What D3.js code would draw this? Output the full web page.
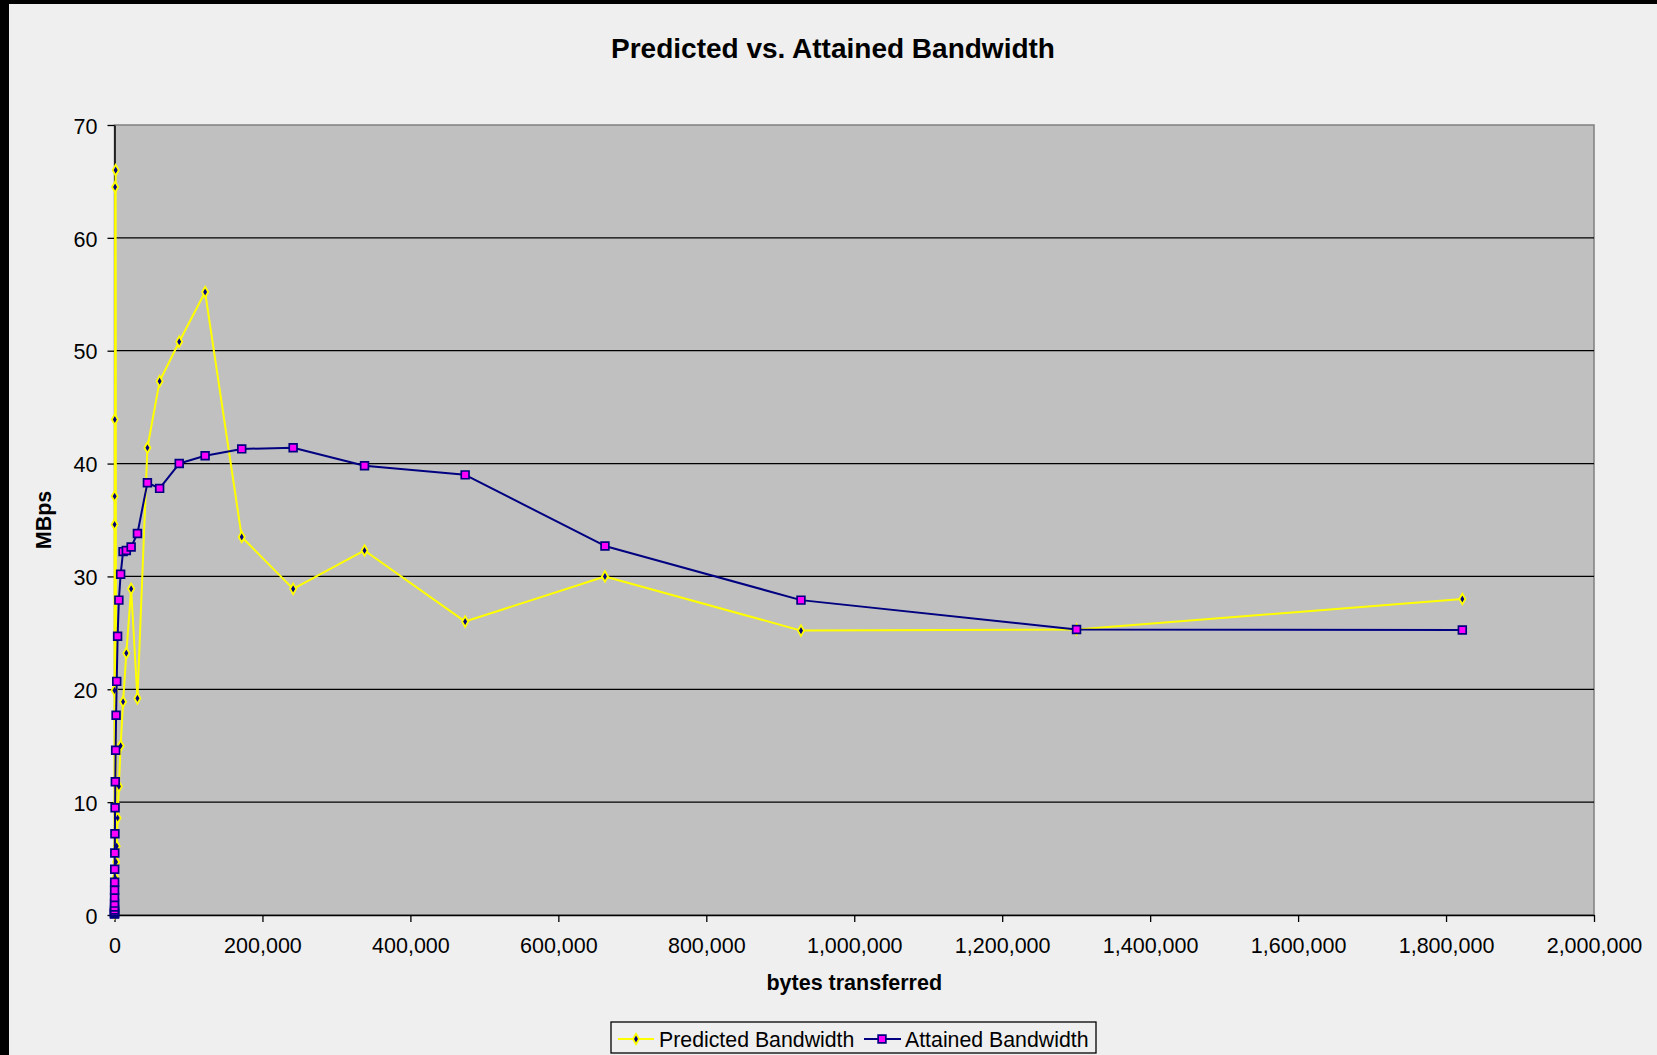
<!DOCTYPE html>
<html>
<head>
<meta charset="utf-8">
<script src="https://cdn.jsdelivr.net/npm/d3@7"></script>
<style>
  html, body { margin: 0; padding: 0; background: #efefef; }
  svg { display: block; font-family: "Liberation Sans", Arial, sans-serif; }
</style>
</head>
<body>
<svg id="chart" width="1657" height="1055"></svg>
<script>
// ---- data ----
const bytesTransferred = [10, 14, 20, 27, 38, 54, 75, 105, 145, 205, 290, 400, 560, 790, 1100, 1550, 2150, 3000, 4200, 5900, 8300, 11600, 16000, 22500, 31000, 44500, 61000, 87500, 122500, 172000, 241500, 338000, 474000, 663000, 928000, 1300500, 1822000];
const predictedBandwidth = [0.15, 0.2, 0.3, 0.4, 0.6, 19.9, 0.9, 34.6, 1.3, 37.1, 1.8, 43.9, 2.5, 64.5, 3.3, 66.0, 4.7, 6.1, 8.6, 11.4, 15.0, 18.9, 23.2, 28.9, 19.2, 41.4, 47.3, 50.8, 55.2, 33.5, 28.9, 32.3, 26.0, 30.0, 25.2, 25.3, 28.0];
const attainedBandwidth = [0.08, 0.12, 0.2, 0.3, 0.45, 0.7, 1.05, 1.55, 2.2, 2.9, 4.05, 5.5, 7.2, 9.5, 11.8, 14.6, 17.7, 20.7, 24.7, 27.9, 30.2, 32.2, 32.3, 32.6, 33.8, 38.3, 37.8, 40.0, 40.7, 41.3, 41.4, 39.8, 39.0, 32.7, 27.9, 25.3, 25.25];
const xTicks = [0, 200000, 400000, 600000, 800000, 1000000, 1200000, 1400000, 1600000, 1800000, 2000000];
const yTicks = [0, 10, 20, 30, 40, 50, 60, 70];
const seriesNames = ["Predicted Bandwidth", "Attained Bandwidth"];
const chartTitle = "Predicted vs. Attained Bandwidth";
const xTitle = "bytes transferred";
const yTitle = "MBps";

// ---- layout ----
const svg = d3.select("#chart");
const W = 1657, H = 1055;
const plot = { left: 114.5, right: 1594, top: 125, bottom: 915 };

svg.append("rect").attr("x", 0).attr("y", 0).attr("width", W).attr("height", H).attr("fill", "#efefef");
// black frame edges (top / left) seen in reference
svg.append("rect").attr("x", 0).attr("y", 0).attr("width", W).attr("height", 4).attr("fill", "#000");
svg.append("rect").attr("x", 0).attr("y", 0).attr("width", 9).attr("height", H).attr("fill", "#000");

const x = d3.scaleLinear().domain([0, 2000000]).range([plot.left, plot.right]);
const y = d3.scaleLinear().domain([0, 70]).range([plot.bottom, plot.top]);

// plot area
svg.append("rect")
  .attr("x", plot.left).attr("y", plot.top)
  .attr("width", plot.right - plot.left).attr("height", plot.bottom - plot.top)
  .attr("fill", "#c0c0c0").attr("stroke", "#808080").attr("stroke-width", 1.5);

// gridlines
svg.append("g").selectAll("line")
  .data(yTicks.filter(t => t > 0 && t < 70))
  .join("line")
  .attr("x1", plot.left).attr("x2", plot.right)
  .attr("y1", d => y(d)).attr("y2", d => y(d))
  .attr("stroke", "#000").attr("stroke-width", 1.3);

// axes
const xAxis = d3.axisBottom(x).tickValues(xTicks).tickFormat(d3.format(",")).tickSizeOuter(0).tickSizeInner(7).tickPadding(16);
const gx = svg.append("g").attr("transform", `translate(0,${plot.bottom})`).call(xAxis);
gx.select(".domain").attr("stroke", "#000").attr("stroke-width", 1.5);
gx.selectAll(".tick line").attr("stroke", "#000").attr("stroke-width", 1.3);
gx.selectAll(".tick text").attr("font-size", 21.5).attr("fill", "#000").attr("font-family", "Liberation Sans, Arial, sans-serif");

const yAxis = d3.axisLeft(y).tickValues(yTicks).tickSizeOuter(0).tickSizeInner(7).tickPadding(10);
const gy = svg.append("g").attr("transform", `translate(${plot.left},0)`).call(yAxis);
gy.select(".domain").attr("stroke", "#000").attr("stroke-width", 1.5);
gy.selectAll(".tick line").attr("stroke", "#000").attr("stroke-width", 1.3);
gy.selectAll(".tick text").attr("font-size", 21.5).attr("fill", "#000").attr("font-family", "Liberation Sans, Arial, sans-serif").attr("dy", "0.38em");

// titles
svg.append("text").attr("x", 833).attr("y", 58).attr("text-anchor", "middle")
  .attr("font-size", 28).attr("font-weight", "bold").text(chartTitle);
svg.append("text").attr("x", (plot.left + plot.right) / 2).attr("y", 990).attr("text-anchor", "middle")
  .attr("font-size", 21.5).attr("font-weight", "bold").text(xTitle);
svg.append("text").attr("transform", `translate(51,${(plot.top + plot.bottom) / 2}) rotate(-90)`)
  .attr("text-anchor", "middle").attr("font-size", 21.5).attr("font-weight", "bold").text(yTitle);

// series
const predData = bytesTransferred.map((b, i) => [b, predictedBandwidth[i]]);
const attData = bytesTransferred.map((b, i) => [b, attainedBandwidth[i]]);
const line = d3.line().x(d => x(d[0])).y(d => y(d[1]));

const diamond = d3.symbol().type(d3.symbolDiamond).size(32);
const square = d3.symbol().type(d3.symbolSquare).size(60);

// predicted
svg.append("path").datum(predData).attr("d", line)
  .attr("fill", "none").attr("stroke", "#ffff00").attr("stroke-width", 2).attr("stroke-linejoin", "round");
svg.append("g").selectAll("path").data(predData).join("path")
  .attr("transform", d => `translate(${x(d[0])},${y(d[1])})`)
  .attr("d", diamond).attr("fill", "#000080").attr("stroke", "#ffff00").attr("stroke-width", 1.8);

// attained
svg.append("path").datum(attData).attr("d", line)
  .attr("fill", "none").attr("stroke", "#000080").attr("stroke-width", 2).attr("stroke-linejoin", "round");
svg.append("g").selectAll("path").data(attData).join("path")
  .attr("transform", d => `translate(${x(d[0])},${y(d[1])})`)
  .attr("d", square).attr("fill", "#ff00ff").attr("stroke", "#000080").attr("stroke-width", 1.7);

// legend
const lg = svg.append("g");
lg.append("rect").attr("x", 611).attr("y", 1022).attr("width", 485).attr("height", 31)
  .attr("fill", "#efefef").attr("stroke", "#000").attr("stroke-width", 1.3);
const ly = 1039;
lg.append("line").attr("x1", 618).attr("x2", 654).attr("y1", ly).attr("y2", ly).attr("stroke", "#ffff00").attr("stroke-width", 2);
lg.append("path").attr("transform", `translate(636,${ly})`).attr("d", diamond).attr("fill", "#000080").attr("stroke", "#ffff00").attr("stroke-width", 1.8);
lg.append("text").attr("x", 659).attr("y", 1046.5).attr("font-size", 21.3).text(seriesNames[0]);
lg.append("line").attr("x1", 864).attr("x2", 901).attr("y1", ly).attr("y2", ly).attr("stroke", "#000080").attr("stroke-width", 2);
lg.append("path").attr("transform", `translate(882,${ly})`).attr("d", square).attr("fill", "#ff00ff").attr("stroke", "#000080").attr("stroke-width", 1.7);
lg.append("text").attr("x", 905).attr("y", 1046.5).attr("font-size", 21.3).text(seriesNames[1]);
</script>
</body>
</html>
